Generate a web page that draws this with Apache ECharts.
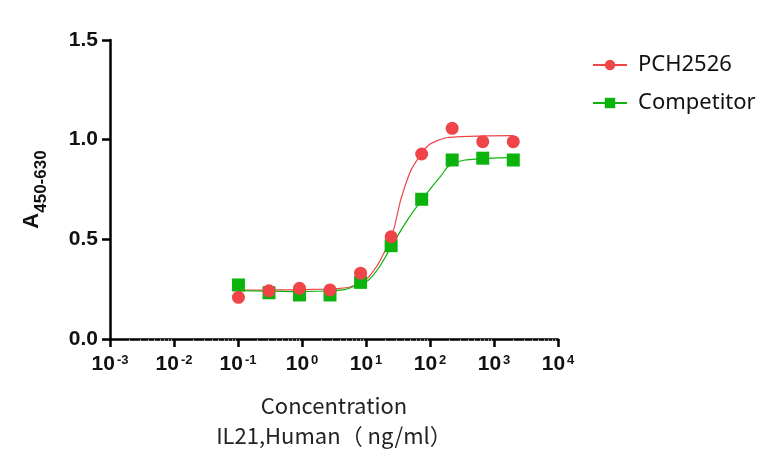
<!DOCTYPE html>
<html>
<head>
<meta charset="utf-8">
<script src="https://cdn.jsdelivr.net/npm/echarts@6/dist/echarts.min.js"></script>
<style>
  html, body { margin: 0; padding: 0; background: #fff; }
  #chart { width: 783px; height: 469px; }
</style>
</head>
<body>
<div id="chart"></div>
<script>
// concentrations (ng/ml), 3-fold dilution
const conc = [0.1016, 0.305, 0.914, 2.74, 8.23, 24.7, 74.1, 222, 667, 2000]
const pchValues = [0.209, 0.242, 0.254, 0.246, 0.33, 0.513, 0.928, 1.057, 0.99, 0.99]
const compValues = [0.271, 0.232, 0.221, 0.221, 0.284, 0.468, 0.701, 0.898, 0.907, 0.898]

// fitted curves
const pchCurveX = [0.1, 0.3, 1, 3, 8, 13, 19, 25, 40, 70, 130, 300, 2000]
const pchCurveY = [0.245, 0.246, 0.248, 0.252, 0.28, 0.34, 0.43, 0.51, 0.76, 0.92, 0.995, 1.015, 1.02]
const compCurveX = [0.1, 0.3, 1, 3, 8, 13, 25, 45, 80, 145, 230, 680, 2000]
const compCurveY = [0.242, 0.24, 0.238, 0.242, 0.275, 0.32, 0.465, 0.6, 0.71, 0.815, 0.88, 0.905, 0.91]

const xTicks = [-3, -2, -1, 0, 1, 2, 3, 4]
const yTicks = [0, 0.5, 1.0, 1.5]

const RED = '#ef4448'
const GREEN = '#0db30d'
const FONT = 'Liberation Sans, Arial, sans-serif'

const zip = (xs, ys) => xs.map((x, i) => [x, ys[i]])

const chart = echarts.init(document.getElementById('chart'))

const option = {
  animation: false,
  textStyle: { fontFamily: FONT },
  grid: { left: 110, right: 225, top: 40, bottom: 130 },
  legend: {
    orient: 'vertical',
    left: 587,
    top: 49,
    itemWidth: 34,
    itemHeight: 13,
    itemGap: 16,
    textStyle: { fontSize: 22, color: '#111', fontFamily: 'Noto Sans, sans-serif', padding: [0, 0, 0, 6] },
    data: ['PCH2526', 'Competitor'],
  },
  xAxis: {
    type: 'log',
    logBase: 10,
    min: 0.001,
    max: 10000,
    name: 'Concentration\nIL21,Human（ ng/ml）',
    nameLocation: 'middle',
    nameGap: 52,
    nameTextStyle: { fontSize: 22, color: '#222', lineHeight: 30, fontFamily: 'Noto Sans CJK SC, sans-serif' },
    axisLine: { lineStyle: { color: '#000', width: 2.5 } },
    axisTick: { length: 8, lineStyle: { color: '#000', width: 2.5 } },
    minorTick: { show: true, splitNumber: 9, length: 2, lineStyle: { color: '#999', width: 1 } },
    splitLine: { show: false },
    axisLabel: {
      margin: 15,
      formatter: v => {
        const e = Math.round(Math.log10(v))
        if (xTicks.indexOf(e) < 0) return ''
        return '{b|10}{s|' + e + '}'
      },
      rich: {
        b: { fontSize: 21, fontWeight: 'bold', color: '#111', fontFamily: FONT },
        s: { fontSize: 13, fontWeight: 'bold', color: '#111', fontFamily: FONT, verticalAlign: 'top', padding: [0, 0, 0, 2] },
      },
    },
  },
  yAxis: {
    type: 'value',
    min: yTicks[0],
    max: yTicks[yTicks.length - 1],
    interval: 0.5,
    name: '{a|A}{s|450-630}',
    nameLocation: 'middle',
    nameRotate: 90,
    nameGap: 60,
    nameTextStyle: {
      rich: {
        a: { fontSize: 22, fontWeight: 'bold', color: '#111', fontFamily: FONT, verticalAlign: 'bottom', padding: [0, 0, 7, 0] },
        s: { fontSize: 17, fontWeight: 'bold', color: '#111', fontFamily: FONT, verticalAlign: 'bottom' },
      },
    },
    axisLine: { show: true, lineStyle: { color: '#000', width: 2.5 } },
    axisTick: { show: true, length: 8, lineStyle: { color: '#000', width: 2.5 } },
    splitLine: { show: false },
    axisLabel: {
      margin: 12,
      fontSize: 21,
      fontWeight: 'bold',
      color: '#111',
      fontFamily: FONT,
      formatter: v => v.toFixed(1),
    },
  },
  series: [
    {
      name: 'PCH2526',
      type: 'line',
      smooth: true,
      symbol: 'circle',
      symbolSize: 12,
      showSymbol: false,
      itemStyle: { color: RED },
      lineStyle: { color: RED, width: 1.2 },
      data: zip(pchCurveX, pchCurveY),
      z: 2,
    },
    {
      name: 'Competitor',
      type: 'line',
      smooth: true,
      symbol: 'rect',
      symbolSize: 12,
      showSymbol: false,
      itemStyle: { color: GREEN },
      lineStyle: { color: GREEN, width: 1.2 },
      data: zip(compCurveX, compCurveY),
      z: 2,
    },
    {
      name: 'Competitor',
      type: 'scatter',
      symbol: 'rect',
      symbolSize: 13,
      itemStyle: { color: GREEN, opacity: 1 },
      data: zip(conc, compValues),
      z: 3,
    },
    {
      name: 'PCH2526',
      type: 'scatter',
      symbol: 'circle',
      symbolSize: 13,
      itemStyle: { color: RED, opacity: 1 },
      data: zip(conc, pchValues),
      z: 4,
    },
  ],
}

chart.setOption(option, true)
</script>
</body>
</html>
